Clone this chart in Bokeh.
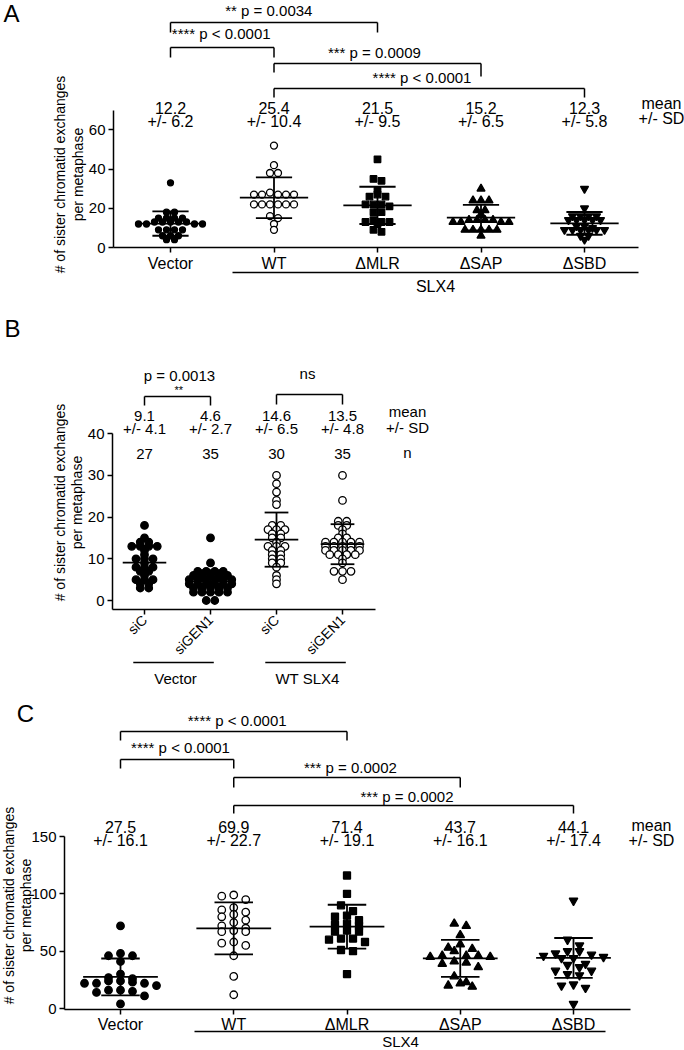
import math
import numpy as np
from bokeh.plotting import figure
from bokeh.models import Range1d, LinearAxis, FixedTicker
from bokeh.layouts import column
from bokeh.embed import file_html
from bokeh.resources import INLINE
from bokeh.core.properties import value

FONT = "Liberation Sans"
W = 684

# ---------------- Panel A data ----------------
a_labels = ["Vector", "WT", "ΔMLR", "ΔSAP", "ΔSBD"]
a_vector = [33, 18, 18, 15, 15, 15, 15, 13, 13, 13, 13, 13, 12, 12, 12, 12, 9, 9, 9, 9, 6, 6, 6, 4, 4]
a_wt = [52, 42, 38, 38, 28, 27, 27, 27, 27, 27, 22, 22, 22, 22, 22, 22, 16, 15, 12, 9]
a_mlr = [45, 35, 34, 29, 27, 26, 26, 22, 22, 22, 21, 18, 18, 14, 13, 13, 13, 12, 9, 8]
a_sap = [30, 24, 24, 24, 19, 19, 17, 14, 14, 14, 14, 13, 13, 13, 13, 9, 9, 9, 9, 9, 6]
a_sbd = [30, 20, 16, 16, 16, 16, 14, 14, 14, 14, 14, 11, 11, 10, 9, 9, 9, 9, 9, 9, 6, 6, 4]
a_means = [12.2, 25.4, 21.5, 15.2, 12.3]
a_sds = [6.2, 10.4, 9.5, 6.5, 5.8]
a_yticks = [0, 20, 40, 60]
a_pairs = [(0, 2), (0, 1), (1, 3), (1, 4)]
a_pvals = ["** p = 0.0034", "**** p < 0.0001", "*** p = 0.0009", "**** p < 0.0001"]

# ---------------- Panel B data ----------------
b_labels = ["siC", "siGEN1", "siC", "siGEN1"]
b_groups_lab = ["Vector", "WT SLX4"]
b_vec_sic = [18, 15, 14, 14, 13, 13, 13, 13, 12, 11, 10, 10, 10, 9, 8, 8, 8, 7, 7, 6, 5, 5, 5, 4, 4, 3, 3]
b_vec_sigen = [15, 9, 7, 7, 7, 7, 6, 6, 6, 6, 6, 5, 5, 5, 5, 5, 5, 4, 4, 4, 4, 4, 4, 3, 3, 3, 3, 3,
               2, 2, 2, 2, 2, 0, 0]
b_wt_sic = [30, 28, 26, 24, 23, 18, 18, 17, 17, 17, 16, 16, 15, 15, 14, 13, 13, 13, 12, 12, 11, 11,
            10, 10, 9, 9, 8, 6, 5, 4]
b_wt_sigen = [30, 24, 19, 19, 18, 18, 17, 16, 15, 15, 14, 14, 14, 14, 14, 13, 13, 13, 13, 13, 12, 12,
              12, 12, 12, 11, 11, 11, 11, 10, 9, 7, 7, 7, 5]
b_means = [9.1, 4.6, 14.6, 13.5]
b_sds = [4.1, 2.7, 6.5, 4.8]
b_yticks = [0, 10, 20, 30, 40]
b_pairs = [(0, 1), (2, 3)]
b_pvals = ["p = 0.0013", "ns"]
b_stars = ["**", ""]

# ---------------- Panel C data ----------------
c_labels = ["Vector", "WT", "ΔMLR", "ΔSAP", "ΔSBD"]
c_vector = [72, 48, 46, 46, 41, 30, 27, 26, 24, 24, 23, 22, 22, 22, 20, 16, 16, 15, 14, 11, 4]
c_wt = [99, 98, 95, 88, 86, 84, 82, 80, 77, 75, 72, 70, 68, 67, 67, 58, 57, 55, 46, 28, 12]
c_mlr = [116, 100, 90, 85, 81, 80, 77, 74, 73, 72, 68, 67, 67, 61, 61, 60, 58, 51, 50, 30]
c_sap = [74, 72, 64, 56, 53, 52, 50, 46, 46, 46, 45, 45, 41, 40, 39, 36, 28, 23, 22, 20, 19]
c_sbd = [94, 60, 55, 50, 50, 48, 47, 46, 45, 44, 44, 39, 38, 36, 33, 33, 30, 29, 21, 20, 18, 4]
c_means = [27.5, 69.9, 71.4, 43.7, 44.1]
c_sds = [16.1, 22.7, 19.1, 16.1, 17.4]
c_yticks = [0, 50, 100, 150]
c_pairs = [(0, 2), (0, 1), (1, 3), (1, 4)]
c_pvals = ["**** p < 0.0001", "**** p < 0.0001", "*** p = 0.0002", "*** p = 0.0002"]

YLABEL = "# of sister chromatid exchanges\nper metaphase"


# ---------------- helpers ----------------
def make_fig(top, height, cx0, pxx, y0, pxy):
    X = lambda rx: (rx - cx0) / pxx
    Y = lambda ry: (y0 - ry) / pxy
    p = figure(width=W, height=height,
               x_range=Range1d(X(0), X(W)),
               y_range=Range1d(Y(top + height), Y(top)),
               output_backend="svg", toolbar_location=None,
               x_axis_type=None, y_axis_type=None, min_border=0)
    p.outline_line_color = None
    p.background_fill_color = "white"
    p.border_fill_color = "white"
    return p, X, Y


def style_axis(ax, size):
    ax.axis_line_color = "black"
    ax.axis_line_width = 1.5
    ax.major_tick_line_color = "black"
    ax.major_tick_line_width = 1.5
    ax.major_tick_in = 0
    ax.major_tick_out = 5
    ax.minor_tick_line_color = None
    ax.major_label_text_font = FONT
    ax.major_label_text_font_size = f"{size}px"
    ax.major_label_text_color = "#000000"


def add_axes(p, yticks, ybounds, yaxis_x, xticks, xlabels, xbounds, xaxis_y,
             xsize=16, ysize=15, xstandoff=2, orient=None):
    ya = LinearAxis(ticker=FixedTicker(ticks=yticks), bounds=ybounds, fixed_location=yaxis_x)
    style_axis(ya, ysize)
    ya.major_label_standoff = 3
    p.add_layout(ya, "left")
    xa = LinearAxis(ticker=FixedTicker(ticks=xticks), bounds=xbounds, fixed_location=xaxis_y,
                    major_label_overrides={t: l for t, l in zip(xticks, xlabels)})
    style_axis(xa, xsize)
    xa.major_label_standoff = xstandoff
    if orient is not None:
        xa.major_label_orientation = orient
    p.add_layout(xa, "below")


def swarm(vals, pxx, d, h_units, maxhw):
    """Prism-like scatter: close values form a row, spread symmetrically around the centre."""
    v = np.asarray(vals, float)
    order = np.argsort(-v, kind="stable")
    rows, cur = [], []
    for i in order:
        if cur and v[cur[0]] - v[i] > h_units:
            rows.append(cur)
            cur = []
        cur.append(i)
    rows.append(cur)
    xs = np.zeros(len(v))
    for r in rows:
        n = len(r)
        if n == 1:
            continue
        step = d if (n - 1) * d / 2 <= maxhw else 2 * maxhw / (n - 1)
        pos = (np.arange(n) - (n - 1) / 2) * step
        slots = sorted(range(n), key=lambda k: (abs(pos[k]), pos[k]))
        for j, k in enumerate(slots):
            xs[r[j]] = pos[k]
    return xs / pxx


def draw_points(p, groups, styles, pxx, d, h_units, maxhw):
    for i, (vals, st) in enumerate(zip(groups, styles)):
        mk, size, fill = st
        off = swarm(vals, pxx, d, h_units, maxhw)
        p.scatter(x=i + off, y=vals, marker=mk, size=size, fill_color=fill,
                  line_color="black", line_width=1.3)


def draw_bars(p, means, sds, hm=0.33, hc=0.175, lw=1.8):
    xs = np.arange(len(means), dtype=float)
    m = np.asarray(means, float)
    s = np.asarray(sds, float)
    kw = dict(line_color="black", line_width=lw)
    p.segment(xs - hm, m, xs + hm, m, **kw)
    p.segment(xs - hc, m + s, xs + hc, m + s, **kw)
    p.segment(xs - hc, m - s, xs + hc, m - s, **kw)
    p.segment(xs, m - s, xs, m + s, **kw)


def draw_brackets(p, Y, pairs, tops, legs):
    x0, y0, x1, y1 = [], [], [], []
    for (a, b), t, (la, lb) in zip(pairs, tops, legs):
        ty = Y(t)
        x0 += [a, a, b]
        y0 += [ty, ty, ty]
        x1 += [b, a, b]
        y1 += [ty, Y(la), Y(lb)]
    p.segment(x0, y0, x1, y1, line_color="black", line_width=1.5)


def txt(p, x, y, s, size, align="center", baseline="middle", angle=0.0, lh=1.2):
    p.text(x=[x], y=[y], text=[s], text_font=value(FONT), text_font_size=value(f"{size}px"),
           text_align=align, text_baseline=baseline, angle=angle, text_color="black",
           text_line_height=lh)


# ================= Panel A =================
pxyA = 1.96
pA, XA, YA = make_fig(top=0, height=305, cx0=170, pxx=103.5, y0=247, pxy=pxyA)
add_axes(pA, a_yticks, (0, 70), XA(113), list(range(5)), a_labels, (XA(113), XA(638)), 0)
draw_points(pA, [a_vector, a_wt, a_mlr, a_sap, a_sbd],
            [("circle", 6, "black"), ("circle", 7, "white"), ("square", 6.5, "black"),
             ("triangle", 8, "black"), ("inverted_triangle", 8, "black")],
            103.5, d=8, h_units=1.5, maxhw=36)
draw_bars(pA, a_means, a_sds)
draw_brackets(pA, YA, a_pairs, [22, 47, 63, 88], [(32, 32), (57, 57), (72, 76), (97, 97)])
for (a, b), s, ty, dx in zip(a_pairs, a_pvals, [10, 33, 52, 77], [-0.05, -0.01, -0.03, -0.07]):
    txt(pA, (a + b) / 2 + dx, YA(ty), s, 15)
for i, (m, s) in enumerate(zip(a_means, a_sds)):
    txt(pA, i, YA(107.5), f"{m:.1f}", 16)
    txt(pA, i, YA(121), f"+/- {s:.1f}", 16)
txt(pA, XA(661), YA(103), "mean", 16)
txt(pA, XA(661), YA(118), "+/- SD", 16)
pA.segment([XA(232)], [YA(272)], [XA(638)], [YA(272)], line_color="black", line_width=1.5)
txt(pA, XA(435), YA(286), "SLX4", 16)
txt(pA, XA(68.5), YA(174), YLABEL, 14, angle=math.pi / 2, lh=1.1)
txt(pA, XA(11), YA(13), "A", 24)

# ================= Panel B =================
pxyB = 4.17
pB, XB, YB = make_fig(top=305, height=385, cx0=144, pxx=66, y0=600, pxy=pxyB)
add_axes(pB, b_yticks, (YB(609), 40), XB(112), list(range(4)), b_labels, (XB(112), XB(375)),
         YB(609), xsize=14, xstandoff=3, orient=math.pi / 4)
draw_points(pB, [b_vec_sic, b_vec_sigen, b_wt_sic, b_wt_sigen],
            [("circle", 7.5, "black"), ("circle", 7.5, "black"),
             ("circle", 7.5, "white"), ("circle", 7.5, "white")],
            66, d=8.5, h_units=0.5, maxhw=30)
draw_bars(pB, b_means, b_sds, hm=0.33, hc=0.18)
draw_brackets(pB, YB, b_pairs, [396, 394], [(405, 405), (404, 404)])
for (a, b), s, st, ty, dx in zip(b_pairs, b_pvals, b_stars, [375, 373], [0.03, -0.03]):
    txt(pB, (a + b) / 2 + dx, YB(ty), s, 15)
    if st:
        txt(pB, (a + b) / 2 + 0.02, YB(389), st, 11)
groups_B = [b_vec_sic, b_vec_sigen, b_wt_sic, b_wt_sigen]
for i, (m, s) in enumerate(zip(b_means, b_sds)):
    txt(pB, i, YB(415.5), f"{m:.1f}", 15)
    txt(pB, i, YB(428), f"+/- {s:.1f}", 15)
    txt(pB, i, YB(453), f"{len(groups_B[i])}", 15)
txt(pB, XB(407), YB(411), "mean", 15)
txt(pB, XB(407), YB(427), "+/- SD", 15)
txt(pB, XB(407), YB(452), "n", 15)
for k, lab in enumerate(b_groups_lab):
    a, b = 2 * k, 2 * k + 1
    pB.segment([a - 0.17], [YB(662)], [b + 0.05], [YB(662)], line_color="black", line_width=1.5)
    txt(pB, (a + b) / 2 - 0.03, YB(678), lab, 15)
txt(pB, XB(68), YB(502), YLABEL, 14, angle=math.pi / 2, lh=1.1)
txt(pB, XB(12), YB(328), "B", 24)

# ================= Panel C =================
pxyC = (1008 - 836) / 150
pC, XC, YC = make_fig(top=690, height=360, cx0=120, pxx=113.25, y0=1008, pxy=pxyC)
add_axes(pC, c_yticks, (YC(1009), 150), XC(64), list(range(5)), c_labels, (XC(64), XC(630)),
         YC(1009), xstandoff=1)
draw_points(pC, [c_vector, c_wt, c_mlr, c_sap, c_sbd],
            [("circle", 7.5, "black"), ("circle", 7.5, "white"), ("square", 7, "black"),
             ("triangle", 8.5, "black"), ("inverted_triangle", 8.5, "black")],
            113.25, d=12, h_units=5, maxhw=40)
draw_bars(pC, c_means, c_sds, hm=0.33, hc=0.17)
draw_brackets(pC, YC, c_pairs, [731, 759, 777, 805], [(740, 740), (768, 768), (787, 787), (813, 813)])
for (a, b), s, ty in zip(c_pairs, c_pvals, [720, 747, 767, 796]):
    txt(pC, (a + b) / 2 + 0.03, YC(ty), s, 15)
for i, (m, s) in enumerate(zip(c_means, c_sds)):
    txt(pC, i, YC(826), f"{m:.1f}", 16)
    txt(pC, i, YC(840), f"+/- {s:.1f}", 16)
txt(pC, XC(651), YC(825), "mean", 16)
txt(pC, XC(651), YC(840), "+/- SD", 16)
pC.segment([XC(194)], [YC(1031)], [XC(605)], [YC(1031)], line_color="black", line_width=1.5)
txt(pC, XC(400), YC(1041), "SLX4", 15)
txt(pC, XC(17), YC(905), YLABEL, 14, angle=math.pi / 2, lh=1.1)
txt(pC, XC(25), YC(713), "C", 24)

layout = column(pA, pB, pC)
open("out.html", "w").write(file_html(layout, INLINE))
